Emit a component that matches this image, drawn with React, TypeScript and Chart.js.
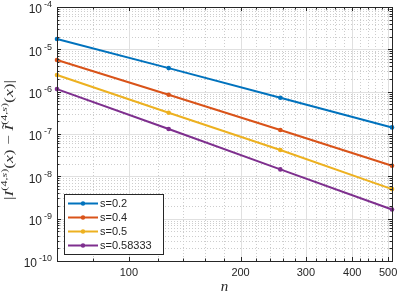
import React, { useEffect, useRef } from "react";
import { Chart, registerables } from "chart.js";

Chart.register(...registerables);

const nValues = [64, 128, 256, 512];
const seriesLabels = ["s=0.2", "s=0.4", "s=0.5", "s=0.58333"];
const errS02 = [1.75e-5, 3.6e-6, 7.2e-7, 1.43e-7];
const errS04 = [5.6e-6, 8.45e-7, 1.24e-7, 1.78e-8];
const errS05 = [2.47e-6, 3.18e-7, 4.2e-8, 5.0e-9];
const errS0583 = [1.15e-6, 1.31e-7, 1.46e-8, 1.65e-9];
const seriesColors = ["#0072BD", "#D95319", "#EDB120", "#7E2F8E"];

const xMajorTicks = [100, 200, 300, 400, 500];
const xMinorTicks = [80, 120, 140, 160, 180, 220, 240, 260, 280, 320, 340, 360, 380, 420, 440, 460, 480];
const yDecadeExps = [-10, -9, -8, -7, -6, -5, -4];

const AXIS_COLOR = "#262626";
const SANS = "'Liberation Sans', Arial, sans-serif";
const SERIF = "'Liberation Serif', 'DejaVu Serif', serif";

const axesPlugin = {
  id: "matlabAxes",
  beforeDatasetsDraw(chart: any) {
    const ctx = chart.ctx;
    const a = chart.chartArea;
    const xs = chart.scales.x;
    const ys = chart.scales.y;
    ctx.save();
    ctx.fillStyle = "#ffffff";
    ctx.fillRect(a.left, a.top, a.right - a.left, a.bottom - a.top);
    ctx.strokeStyle = "#cdcdcd";
    ctx.lineWidth = 1;
    ctx.setLineDash([1, 2]);
    ctx.beginPath();
    for (const v of xMinorTicks) {
      const px = Math.round(xs.getPixelForValue(v)) + 0.5;
      ctx.moveTo(px, a.top);
      ctx.lineTo(px, a.bottom);
    }
    for (const e of yDecadeExps) {
      for (let m = 2; m <= 9; m++) {
        const v = m * Math.pow(10, e);
        if (v > ys.max) continue;
        const py = Math.round(ys.getPixelForValue(v)) + 0.5;
        ctx.moveTo(a.left, py);
        ctx.lineTo(a.right, py);
      }
    }
    ctx.stroke();
    ctx.setLineDash([]);
    ctx.strokeStyle = "#e0e0e0";
    ctx.beginPath();
    for (const v of xMajorTicks) {
      const px = Math.round(xs.getPixelForValue(v)) + 0.5;
      ctx.moveTo(px, a.top);
      ctx.lineTo(px, a.bottom);
    }
    for (const e of yDecadeExps) {
      const py = Math.round(ys.getPixelForValue(Math.pow(10, e))) + 0.5;
      ctx.moveTo(a.left, py);
      ctx.lineTo(a.right, py);
    }
    ctx.stroke();
    ctx.restore();
  },
  afterDatasetsDraw(chart: any) {
    const ctx = chart.ctx;
    const a = chart.chartArea;
    const xs = chart.scales.x;
    const ys = chart.scales.y;
    ctx.save();
    ctx.strokeStyle = AXIS_COLOR;
    ctx.lineWidth = 1;
    ctx.strokeRect(Math.round(a.left) + 0.5, Math.round(a.top) + 0.5, Math.round(a.right - a.left), Math.round(a.bottom - a.top));
    ctx.beginPath();
    const xt = (v: number, len: number) => {
      const px = Math.round(xs.getPixelForValue(v)) + 0.5;
      ctx.moveTo(px, a.bottom);
      ctx.lineTo(px, a.bottom - len);
      ctx.moveTo(px, a.top);
      ctx.lineTo(px, a.top + len);
    };
    const yt = (v: number, len: number) => {
      const py = Math.round(ys.getPixelForValue(v)) + 0.5;
      ctx.moveTo(a.left, py);
      ctx.lineTo(a.left + len, py);
      ctx.moveTo(a.right, py);
      ctx.lineTo(a.right - len, py);
    };
    xMajorTicks.forEach((v) => xt(v, 4));
    xMinorTicks.forEach((v) => xt(v, 2.5));
    yDecadeExps.forEach((e) => {
      yt(Math.pow(10, e), 4);
      for (let m = 2; m <= 9; m++) {
        const v = m * Math.pow(10, e);
        if (v < ys.max) yt(v, 2.5);
      }
    });
    ctx.stroke();

    ctx.fillStyle = AXIS_COLOR;
    ctx.font = `11px ${SANS}`;
    ctx.textAlign = "center";
    ctx.textBaseline = "middle";
    for (const v of xMajorTicks) {
      ctx.fillText(String(v), xs.getPixelForValue(v), a.bottom + 12);
    }
    for (const e of yDecadeExps) {
      const py = ys.getPixelForValue(Math.pow(10, e));
      const sup = String(e);
      ctx.font = `9px ${SANS}`;
      const wSup = ctx.measureText(sup).width;
      const right = a.left - 5;
      ctx.textAlign = "left";
      ctx.fillText(sup, right - wSup, py - 2);
      ctx.font = `12px ${SANS}`;
      ctx.textAlign = "right";
      ctx.fillText("10", right - wSup - 2, py + 3);
    }

    ctx.font = `italic 15px ${SERIF}`;
    ctx.textAlign = "center";
    ctx.textBaseline = "alphabetic";
    ctx.fillText("n", (a.left + a.right) / 2, 291);

    const main = 13;
    const small = 9;
    const segs: { t: string; f: string; dy: number }[] = [
      { t: "|", f: `${main}px ${SERIF}`, dy: 0 },
      { t: "I", f: `italic ${main}px ${SERIF}`, dy: 0 },
      { t: "(4,", f: `${small}px ${SERIF}`, dy: -6 },
      { t: "s", f: `italic ${small}px ${SERIF}`, dy: -6 },
      { t: ")", f: `${small}px ${SERIF}`, dy: -6 },
      { t: "(", f: `${main}px ${SERIF}`, dy: 0 },
      { t: "x", f: `italic ${main}px ${SERIF}`, dy: 0 },
      { t: ")", f: `${main}px ${SERIF}`, dy: 0 },
      { t: " \u2212 ", f: `${main}px ${SERIF}`, dy: 0 },
      { t: "\u0128", f: `italic ${main}px ${SERIF}`, dy: 0 },
      { t: "(4,", f: `${small}px ${SERIF}`, dy: -6 },
      { t: "s", f: `italic ${small}px ${SERIF}`, dy: -6 },
      { t: ")", f: `${small}px ${SERIF}`, dy: -6 },
      { t: "(", f: `${main}px ${SERIF}`, dy: 0 },
      { t: "x", f: `italic ${main}px ${SERIF}`, dy: 0 },
      { t: ")", f: `${main}px ${SERIF}`, dy: 0 },
      { t: "|", f: `${main}px ${SERIF}`, dy: 0 },
    ];
    let total = 0;
    const widths = segs.map((s) => {
      ctx.font = s.f;
      const w = ctx.measureText(s.t).width;
      total += w;
      return w;
    });
    const k = 120 / total;
    ctx.save();
    ctx.translate(0, 140);
    ctx.rotate(-Math.PI / 2);
    ctx.scale(k, 1);
    ctx.textAlign = "left";
    ctx.textBaseline = "alphabetic";
    ctx.fillStyle = "#333333";
    let cx = -total / 2;
    segs.forEach((s, i) => {
      ctx.font = s.f;
      ctx.fillText(s.t, cx, 12.5 + s.dy);
      cx += widths[i];
    });
    ctx.restore();

    const lx = 64, ly = 194, lw = 99, lh = 60;
    ctx.fillStyle = "#ffffff";
    ctx.fillRect(lx, ly, lw, lh);
    ctx.strokeStyle = AXIS_COLOR;
    ctx.lineWidth = 1;
    ctx.strokeRect(lx + 0.5, ly + 0.5, lw, lh);
    ctx.font = `11px ${SANS}`;
    ctx.textAlign = "left";
    ctx.textBaseline = "middle";
    chart.data.datasets.forEach((ds: any, i: number) => {
      const ry = ly + 9.5 + i * 14;
      ctx.strokeStyle = ds.borderColor;
      ctx.lineWidth = 2;
      ctx.beginPath();
      ctx.moveTo(68, ry);
      ctx.lineTo(98, ry);
      ctx.stroke();
      ctx.fillStyle = ds.borderColor;
      ctx.beginPath();
      ctx.arc(83, ry, 2.2, 0, Math.PI * 2);
      ctx.fill();
      ctx.fillStyle = AXIS_COLOR;
      ctx.fillText(ds.label, 100, ry + 0.5);
    });
    ctx.restore();
  },
};

export default function App() {
  const ref = useRef<HTMLCanvasElement | null>(null);
  useEffect(() => {
    if (!ref.current) return;
    const all = [errS02, errS04, errS05, errS0583];
    const chart = new Chart(ref.current, {
      type: "line",
      data: {
        datasets: all.map((vals, i) => ({
          label: seriesLabels[i],
          data: nValues.map((n, j) => ({ x: n, y: vals[j] })),
          borderColor: seriesColors[i],
          backgroundColor: seriesColors[i],
          borderWidth: 2,
          pointRadius: 2.3,
          pointHoverRadius: 2.3,
          pointBorderWidth: 0,
          tension: 0,
          clip: false as any,
        })),
      },
      options: {
        animation: false,
        responsive: false,
        maintainAspectRatio: false,
        layout: { padding: { left: 57, right: 7, top: 7, bottom: 33 } },
        plugins: { legend: { display: false }, tooltip: { enabled: false } },
        scales: {
          x: { type: "logarithmic", min: 64, max: 512, display: false },
          y: { type: "logarithmic", min: 1e-10, max: 1e-4, display: false },
        },
        events: [],
      },
      plugins: [axesPlugin],
    });
    return () => chart.destroy();
  }, []);
  return (
    <div style={{ position: "absolute", left: 0, top: 0, width: 399, height: 294, background: "#fff" }}>
      <canvas ref={ref} width={399} height={294} style={{ width: 399, height: 294 }} />
    </div>
  );
}
